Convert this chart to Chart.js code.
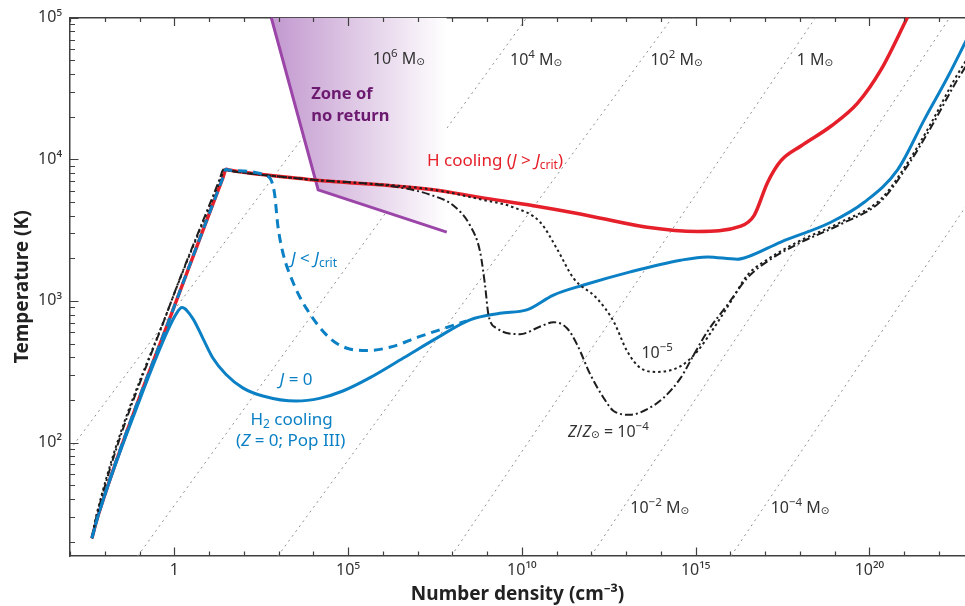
<!DOCTYPE html>
<html>
<head>
<meta charset="utf-8">
<script src="https://cdn.jsdelivr.net/npm/chart.js@4.4.1/dist/chart.umd.min.js"></script>
<style>
  html, body { margin: 0; padding: 0; background: #fff; }
</style>
</head>
<body>
<canvas id="myChart" width="965" height="606"></canvas>
<script>
const FONT = "'Noto Sans', 'DejaVu Sans', sans-serif";

// x values are log10 of number density (cm^-3), y values are temperatures (K)
const hCoolLogN = [-2.37, -2.19, 0.05, 1.40, 1.49, 1.62, 3.80, 7.45, 8.80, 10.34, 11.68, 13.61, 15.05, 16.30, 16.68, 17.07, 17.45, 18.03, 18.89, 19.66, 20.33, 21.10];
const hCoolT = [21.1, 30.6, 986, 7430, 8490, 8350, 7230, 6100, 5380, 4700, 4110, 3310, 3090, 3370, 4000, 6860, 9730, 12400, 17100, 24900, 42700, 101000];

const h2LogN = [-2.37, -2.19, -1.01, -0.20, 0.06, 0.22, 0.53, 0.82, 1.11, 1.49, 1.97, 2.55, 3.51, 4.18, 4.85, 5.62, 6.59, 7.55, 8.51, 9.37, 10.14, 10.91, 11.78, 13.12, 14.57, 15.34, 16.20, 16.49, 17.45, 18.89, 19.85, 20.82, 21.58, 22.26, 22.79];
const h2T = [21.1, 30.6, 196, 608, 813, 896, 753, 546, 395, 302, 243, 213, 196, 205, 231, 286, 395, 546, 735, 817, 863, 1099, 1294, 1603, 1937, 2043, 1968, 2043, 2602, 3589, 4966, 8490, 19050, 38370, 69340];

const jLowLogN = [-2.37, -2.19, 0.05, 1.40, 1.49, 1.62, 2.65, 2.88, 2.98, 3.12, 3.41, 3.80, 4.47, 4.95, 5.53, 6.20, 7.07, 7.84, 8.41];
const jLowT = [21.1, 30.6, 986, 7430, 8490, 8350, 7640, 5830, 3400, 2210, 1364, 885, 546, 465, 446, 470, 561, 649, 722];

const z5LogN = [-2.37, -2.22, -0.09, 1.35, 1.44, 1.58, 3.80, 7.45, 8.80, 9.75, 10.53, 11.01, 11.49, 12.16, 12.64, 13.03, 13.41, 13.89, 14.57, 15.05, 15.52, 16.01, 16.49, 16.96, 17.93, 19.17, 20.33, 21.10, 21.78, 22.44, 22.79];
const z5T = [21.1, 32.2, 986, 7400, 8450, 8320, 7230, 6095, 5212, 4581, 3589, 2333, 1439, 1042, 715, 441, 336, 315, 346, 441, 641, 986, 1521, 1884, 2602, 3589, 5236, 9462, 18070, 36300, 50200];

const z4LogN = [-2.37, -2.25, -0.09, 1.32, 1.41, 1.55, 3.80, 6.49, 7.44, 8.03, 8.51, 8.80, 8.94, 9.04, 9.28, 9.95, 10.53, 10.91, 11.30, 11.59, 11.97, 12.35, 12.64, 13.12, 13.61, 14.08, 14.57, 14.95, 15.34, 15.91, 16.49, 16.96, 17.93, 19.17, 20.33, 21.10, 21.78, 22.44, 22.79];
const z4T = [21.1, 29.2, 986, 7400, 8450, 8320, 7230, 6324, 5534, 4711, 3404, 2213, 1294, 796, 641, 582, 659, 707, 641, 491, 302, 207, 167, 157, 172, 207, 286, 418, 608, 935, 1455, 1824, 2518, 3475, 5047, 9016, 16940, 33340, 46000];

// "zone of no return" boundary
const zoneLogN = [2.79, 4.14, 7.84];
const zoneT = [100000, 6070, 3055];

// constant Jeans-mass guide lines (10^6 ... 10^-4 Msun), ends at the bottom and top of the frame
const massLineLowLogN = [-5.28, -1.05, 2.98, 7.97, 11.99, 16.02];
const massLineHighLogN = [6.27, 10.14, 14.33, 18.45, 22.31, 26.42];

const xTickLabels = { 0: '1', 5: '10⁵', 10: '10¹⁰', 15: '10¹⁵', 20: '10²⁰' };
const yTickLabels = { 100: '10²', 1000: '10³', 10000: '10⁴', 100000: '10⁵' };
const yTickValues = [20, 30, 40, 50, 60, 70, 80, 90, 100, 200, 300, 400, 500, 600, 700, 800, 900,
  1000, 2000, 3000, 4000, 5000, 6000, 7000, 8000, 9000, 10000, 20000, 30000, 40000, 50000, 60000, 70000, 80000, 90000, 100000];

const X_MIN = -3, X_MAX = 22.75, Y_MIN = 15.8, Y_MAX = 100000;

const RED = '#e5202a';
const BLUE = '#0b80c5';
const BLACK = '#1e1e1e';
const PURPLE = '#9b45a8';
const GREY = '#333333';

const pts = (xs, ys) => xs.map((x, i) => ({ x: x, y: ys[i] }));

const curve = (label, xs, ys, color, width, dash) => ({
  label: label,
  data: pts(xs, ys),
  borderColor: color,
  borderWidth: width,
  borderDash: dash || [],
  cubicInterpolationMode: 'monotone',
  pointRadius: 0,
  fill: false,
});

const datasets = [
  curve('J < Jcrit', jLowLogN, jLowT, BLUE, 3, [9, 6]),
  curve('Z/Zsun = 1e-4', z4LogN, z4T, BLACK, 2, [8, 3, 2, 3]),
  curve('Z/Zsun = 1e-5', z5LogN, z5T, BLACK, 2, [2.5, 3]),
  curve('J = 0', h2LogN, h2T, BLUE, 3),
  curve('H cooling', hCoolLogN, hCoolT, RED, 3.5),
  {
    label: 'zone of no return',
    data: pts(zoneLogN, zoneT),
    borderColor: PURPLE,
    borderWidth: 3,
    pointRadius: 0,
    tension: 0,
    fill: 'end',
    backgroundColor(context) {
      const chart = context.chart;
      if (!chart.chartArea) return 'rgba(0,0,0,0)';
      const xs = chart.scales.x;
      const g = chart.ctx.createLinearGradient(xs.getPixelForValue(zoneLogN[0]), 0, xs.getPixelForValue(zoneLogN[2]), 0);
      g.addColorStop(0, 'rgb(194,152,207)');
      g.addColorStop(0.5, 'rgb(224,203,230)');
      g.addColorStop(1, 'rgb(255,255,255)');
      return g;
    },
  },
];

massLineLowLogN.forEach((lo, i) => {
  datasets.push({
    label: 'Jeans mass ' + i,
    data: [{ x: lo, y: Y_MIN }, { x: massLineHighLogN[i], y: Y_MAX }],
    borderColor: '#8f8f8f',
    borderWidth: 1,
    borderDash: [2, 4],
    pointRadius: 0,
    tension: 0,
    fill: false,
  });
});

const sup = (t) => ({ t: t, s: 11.5, dy: -7 });
const sub = (t) => ({ t: t, s: 12, dy: 3.5 });
const sun = { t: '⊙', s: 10.5, dy: 1 };

const notes = [
  { x: 5.71, y: 46800, c: GREY, runs: [{ t: '10', s: 16 }, sup('6'), { t: ' M', s: 16 }, sun] },
  { x: 9.66, y: 46000, c: GREY, runs: [{ t: '10', s: 16 }, sup('4'), { t: ' M', s: 16 }, sun] },
  { x: 13.70, y: 46000, c: GREY, runs: [{ t: '10', s: 16 }, sup('2'), { t: ' M', s: 16 }, sun] },
  { x: 17.91, y: 46000, c: GREY, runs: [{ t: '1 M', s: 16 }, sun] },
  { x: 13.12, y: 31.7, c: GREY, runs: [{ t: '10', s: 16 }, sup('−2'), { t: ' M', s: 16 }, sun] },
  { x: 17.16, y: 31.7, c: GREY, runs: [{ t: '10', s: 16 }, sup('−4'), { t: ' M', s: 16 }, sun] },
  { x: 3.94, y: 26600, c: '#6c1a6f', runs: [{ t: 'Zone of', b: true, s: 16.5 }] },
  { x: 3.94, y: 18650, c: '#6c1a6f', runs: [{ t: 'no return', b: true, s: 16.5 }] },
  { x: 7.27, y: 9016, c: RED, runs: [{ t: 'H cooling (' }, { t: 'J', i: true }, { t: ' > ' }, { t: 'J', i: true }, sub('crit'), { t: ')' }] },
  { x: 3.36, y: 1824, c: BLUE, runs: [{ t: 'J', i: true }, { t: ' < ' }, { t: 'J', i: true }, sub('crit')] },
  { x: 3.03, y: 254, c: BLUE, runs: [{ t: 'J', i: true }, { t: ' = 0' }] },
  { x: 3.375, y: 133, c: BLUE, center: true, runs: [{ t: 'H' }, sub('2'), { t: ' cooling' }] },
  { x: 3.35, y: 95, c: BLUE, center: true, runs: [{ t: '(' }, { t: 'Z', i: true }, { t: ' = 0; Pop III)' }] },
  { x: 13.44, y: 394, c: GREY, runs: [{ t: '10', s: 16 }, sup('−5')] },
  { x: 11.33, y: 110, c: GREY, runs: [{ t: 'Z', i: true, s: 16 }, { t: '/', s: 16 }, { t: 'Z', i: true, s: 16 }, sun, { t: ' = 10', s: 16 }, sup('−4')] },
];

const fontOf = (r) => (r.i ? 'italic ' : '') + (r.b ? 'bold ' : '') + (r.s || 17) + 'px ' + FONT;

const notesPlugin = {
  id: 'notes',
  afterDatasetsDraw(chart) {
    const { ctx, scales: { x, y } } = chart;
    ctx.save();
    ctx.textBaseline = 'alphabetic';
    ctx.textAlign = 'left';
    notes.forEach((n) => {
      let w = 0;
      n.runs.forEach((r) => { ctx.font = fontOf(r); w += ctx.measureText(r.t).width; });
      let px = x.getPixelForValue(n.x);
      if (n.center) px -= w / 2;
      const py = y.getPixelForValue(n.y);
      ctx.fillStyle = n.c;
      n.runs.forEach((r) => {
        ctx.font = fontOf(r);
        ctx.fillText(r.t, px, py + (r.dy || 0));
        px += ctx.measureText(r.t).width;
      });
    });
    ctx.restore();
  },
};

// tick marks point into the plot, on the bottom, top and left edges
const innerTicks = {
  id: 'innerTicks',
  afterDatasetsDraw(chart) {
    const { ctx, chartArea: a, scales: { x, y } } = chart;
    ctx.save();
    ctx.strokeStyle = '#404040';
    ctx.lineWidth = 1.2;
    ctx.beginPath();
    x.ticks.forEach((t) => {
      const px = Math.round(x.getPixelForValue(t.value)) + 0.5;
      const len = t.value % 5 === 0 ? 8.5 : 4.5;
      ctx.moveTo(px, a.bottom);
      ctx.lineTo(px, a.bottom - len);
      ctx.moveTo(px, a.top);
      ctx.lineTo(px, a.top + len);
    });
    y.ticks.forEach((t) => {
      const py = Math.round(y.getPixelForValue(t.value)) + 0.5;
      const len = yTickLabels[t.value] ? 8.5 : 5;
      ctx.moveTo(a.left, py);
      ctx.lineTo(a.left + len, py);
    });
    ctx.stroke();
    ctx.restore();
  },
};

Chart.defaults.font.family = FONT;

const config = {
  type: 'line',
  data: { datasets: datasets },
  options: {
    responsive: false,
    animation: false,
    layout: { padding: { top: 14, right: 0, left: 0, bottom: 0 } },
    plugins: {
      legend: { display: false },
      tooltip: { enabled: false },
    },
    scales: {
      x: {
        type: 'linear',
        position: 'bottom',
        min: X_MIN,
        max: X_MAX,
        afterBuildTicks: (scale) => {
          const ticks = [];
          for (let v = -3; v <= 22; v++) ticks.push({ value: v });
          scale.ticks = ticks;
        },
        afterFit: (scale) => { scale.height = 50; },
        ticks: {
          autoSkip: false,
          maxRotation: 0,
          padding: 5,
          color: GREY,
          font: { size: 16 },
          callback: (v) => xTickLabels[v] || '',
        },
        grid: { drawOnChartArea: false, drawTicks: false },
        border: { display: true, color: '#404040', width: 1.5 },
        title: {
          display: true,
          text: 'Number density (cm⁻³)',
          color: '#222',
          font: { size: 19, weight: 'bold' },
          padding: { top: 0, bottom: 0 },
        },
      },
      xTop: {
        type: 'linear',
        position: 'top',
        min: X_MIN,
        max: X_MAX,
        afterFit: (scale) => { scale.height = 0; },
        ticks: { display: false },
        grid: { drawOnChartArea: false, drawTicks: false },
        border: { display: true, color: '#404040', width: 1.5 },
      },
      y: {
        type: 'logarithmic',
        position: 'left',
        min: Y_MIN,
        max: Y_MAX,
        afterBuildTicks: (scale) => {
          scale.ticks = yTickValues.map((v) => ({ value: v }));
        },
        afterFit: (scale) => { scale.width = 70; },
        ticks: {
          autoSkip: false,
          padding: 8,
          color: GREY,
          font: { size: 16 },
          callback: (v) => yTickLabels[v] || '',
        },
        grid: { drawOnChartArea: false, drawTicks: false },
        border: { display: true, color: '#404040', width: 1.5 },
        title: {
          display: true,
          text: 'Temperature (K)',
          color: '#222',
          font: { size: 19, weight: 'bold' },
          padding: { top: 11, bottom: 0 },
        },
      },
    },
  },
  plugins: [innerTicks, notesPlugin],
};

new Chart(document.getElementById('myChart'), config);
</script>
</body>
</html>
